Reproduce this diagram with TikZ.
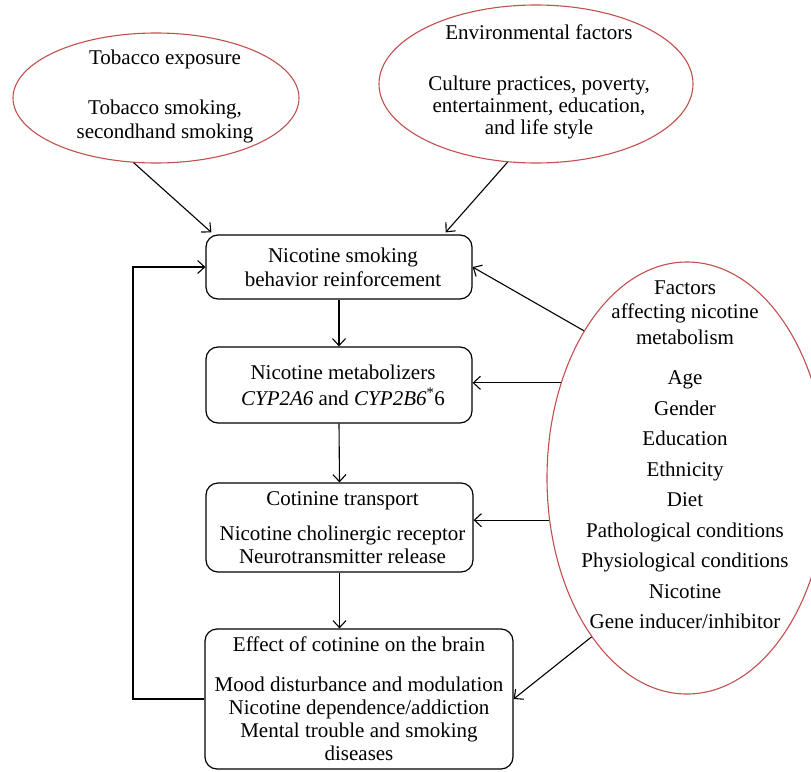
\documentclass[tikz,border=0pt]{standalone}
\usepackage{fontspec}
\setmainfont{Liberation Serif}
\usetikzlibrary{shapes.geometric,arrows.meta}
\definecolor{ellred}{RGB}{192,80,77}
\begin{document}
\begin{tikzpicture}[x=1pt,y=-1pt,
  txt/.style={font=\fontsize{21}{24}\selectfont, align=center, inner sep=0pt},
  box/.style={draw, line width=1.2pt, rounded corners=12pt, txt},
  ell/.style={draw=ellred, line width=1.1pt, ellipse, inner sep=0pt},
  arr/.style={line width=1.1pt, -{Straight Barb[length=7pt,width=13pt]}}]
\clip (0,0) rectangle (811,771);
% ellipses
\node[ell, minimum width=286pt, minimum height=130pt] (tob) at (156,98) {};
\node[txt] (tobt) at (165,96) {Tobacco exposure\\[26pt]Tobacco smoking,\\secondhand smoking};
\node[ell, minimum width=314pt, minimum height=158pt] (env) at (536,84) {};
\node[txt, font=\fontsize{21}{22}\selectfont] (envt) at (539,82) {Environmental factors\\[29pt]Culture practices, poverty,\\entertainment, education,\\and life style};
\node[ell, minimum width=280pt, minimum height=432pt] (fac) at (687,478) {};
\node[txt] (fact) at (685,455) {Factors\\affecting nicotine\\[2pt]metabolism\\[16pt]Age\\[6.5pt]Gender\\[6.5pt]Education\\[6.5pt]Ethnicity\\[6.5pt]Diet\\[6.5pt]Pathological conditions\\[6.5pt]Physiological conditions\\[6.5pt]Nicotine\\[6.5pt]Gene inducer/inhibitor};
% boxes
\node[box, minimum width=266pt, minimum height=64pt] (b1) at (339,267) {\hspace*{8pt}Nicotine smoking\\\hspace*{8pt}behavior reinforcement};
\node[box, minimum width=266pt, minimum height=76pt] (b2) at (339,385) {\hspace*{8pt}Nicotine metabolizers\\[2pt]\hspace*{8pt}\textit{CYP2A6} and \textit{CYP2B6}\textsuperscript{*}6};
\node[box, minimum width=267pt, minimum height=89pt, font=\fontsize{21}{22.5}\selectfont] (b3) at (339.5,527.5) {\hspace*{6pt}Cotinine transport\\[13pt]\hspace*{6pt}Nicotine cholinergic receptor\\\hspace*{6pt}Neurotransmitter release};
\node[box, minimum width=308pt, minimum height=140pt, font=\fontsize{21}{23.3}\selectfont] (b4) at (359,699) {Effect of cotinine on the brain\\[16pt]Mood disturbance and modulation\\Nicotine dependence/addiction\\Mental trouble and smoking\\diseases};
% connectors
\draw[arr] (tob.-109) -- ([xshift=6pt,yshift=2pt]b1.north west);
\draw[arr] (env.-110) -- ([xshift=-27pt,yshift=2pt]b1.north east);
\draw[arr] (b1.south) -- (b2.north);
\draw[arr] (b2.south) -- (b3.north);
\draw[arr] (b3.south) -- (b3.south |- b4.north);
\draw[arr] (fac.125) -- (b1.east);
\draw[arr] (fac.143) -- (fac.143 -| b2.east);
\draw[arr] (fac.197) -- (fac.197 -| b3.east);
\draw[arr] (fac.239) -- (b4.east);
\coordinate (loopx) at (133,0);
\draw[arr] (b4.west) -| (loopx |- b1.west) -- (b1.west);
\end{tikzpicture}
\end{document}
